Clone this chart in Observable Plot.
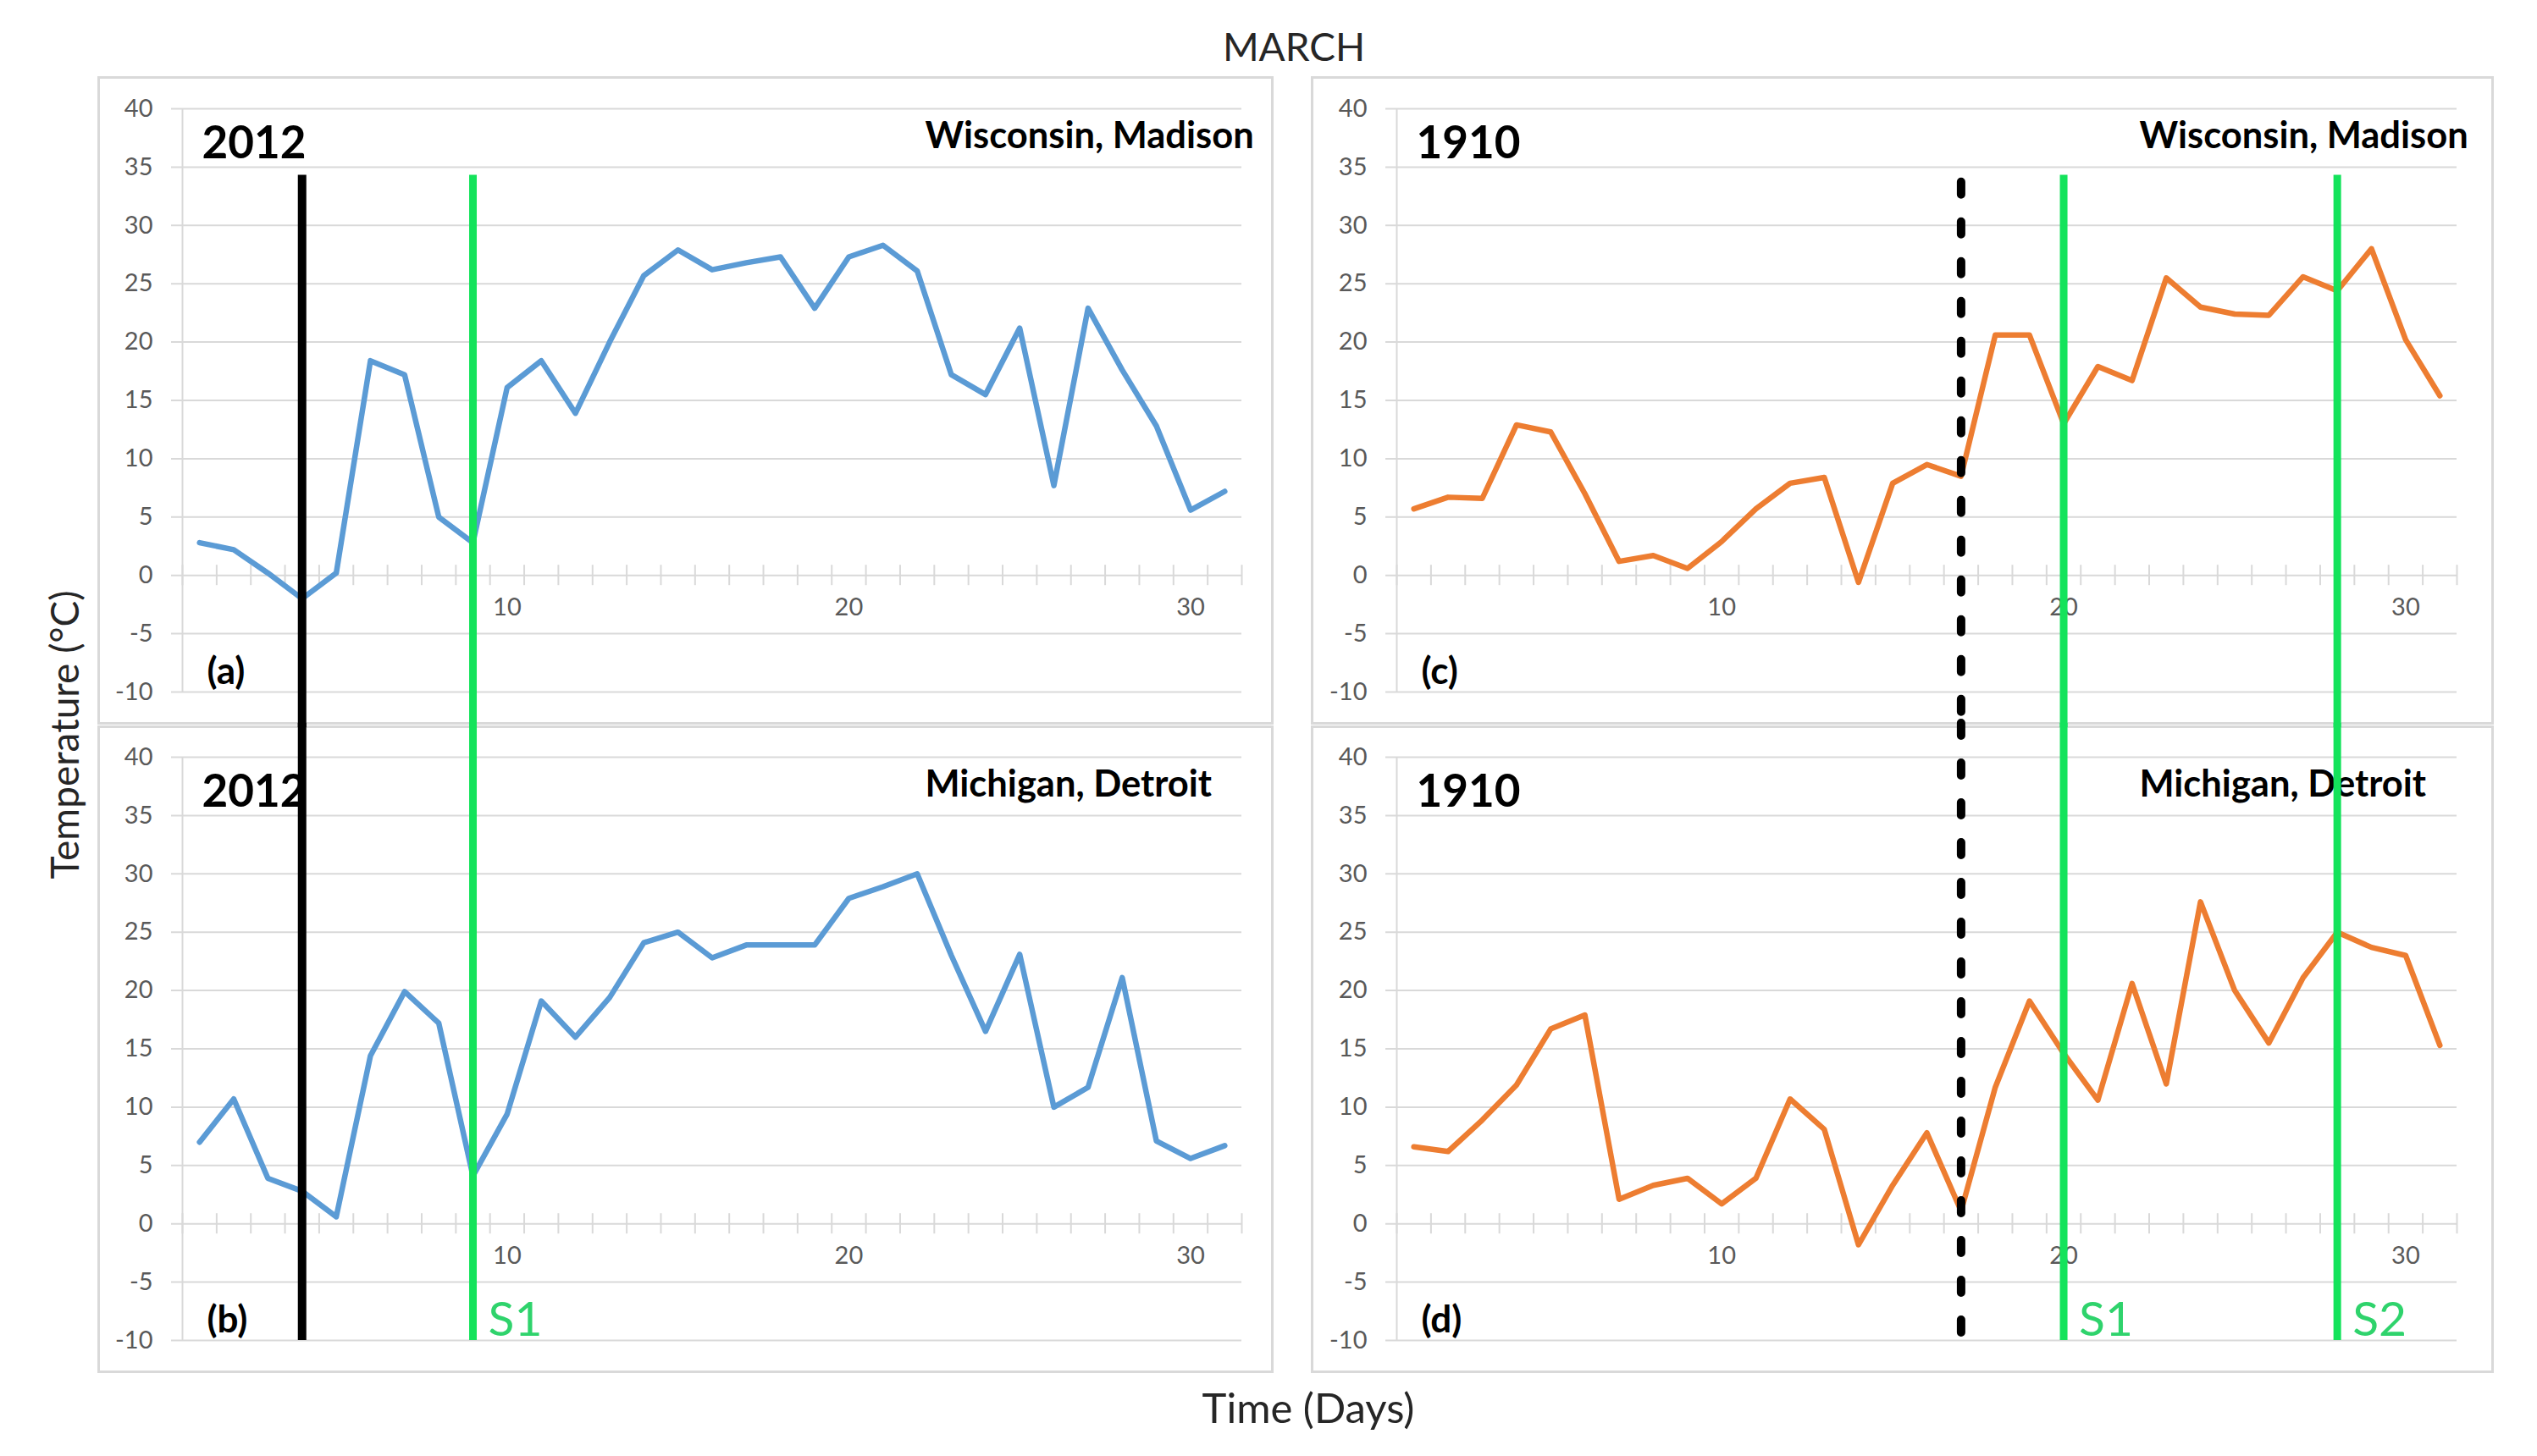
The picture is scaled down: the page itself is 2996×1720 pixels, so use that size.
<!DOCTYPE html>
<html>
<head>
<meta charset="utf-8">
<script src="https://cdn.jsdelivr.net/npm/d3@7"></script>
<script src="https://cdn.jsdelivr.net/npm/@observablehq/plot@0.6"></script>
<style>
  html, body { margin: 0; padding: 0; background: #fff; }
  #root { position: relative; width: 2996px; height: 1720px; overflow: hidden; background: #fff; font-family: Lato, "Open Sans", sans-serif; color: #262626; }
  .box { position: absolute; border: 3px solid #d9d9d9; box-sizing: border-box; z-index: 1; }
  .panel { position: absolute; z-index: 2; }
  .panel svg { overflow: visible; background: transparent; }
  .lbl { position: absolute; line-height: 1; white-space: nowrap; text-align: center; }
</style>
</head>
<body>
<div id="root">
  <div class="lbl" style="left:1328px; width:400px; top:32px; font-size:46px;">MARCH</div>
  <div class="lbl" style="left:1345px; width:400px; top:1638px; font-size:49px;">Time (Days)</div>
  <div class="lbl" style="left:-124px; width:400px; top:845px; font-size:46px; transform: rotate(-90deg); transform-origin: 200px 23px;">Temperature (°C)</div>
</div>
<script>
// ---- data ----
const days = [1,2,3,4,5,6,7,8,9,10,11,12,13,14,15,16,17,18,19,20,21,22,23,24,25,26,27,28,29,30,31];
const madison2012 = [2.8,2.2,0.2,-2.0,0.2,18.4,17.2,5.0,2.8,16.1,18.4,13.9,20.0,25.7,27.9,26.2,26.8,27.3,22.9,27.3,28.3,26.1,17.2,15.5,21.2,7.7,22.9,17.6,12.8,5.6,7.2];
const detroit2012 = [7.0,10.7,3.9,2.8,0.6,14.4,19.9,17.2,4.1,9.4,19.1,16.0,19.4,24.1,25.0,22.8,23.9,23.9,23.9,27.9,28.9,30.0,23.0,16.5,23.1,10.0,11.7,21.1,7.1,5.6,6.7];
const madison1910 = [5.7,6.7,6.6,12.9,12.3,7.0,1.2,1.7,0.6,2.9,5.7,7.9,8.4,-0.6,7.9,9.5,8.5,20.6,20.6,13.0,17.9,16.7,25.5,23.0,22.4,22.3,25.6,24.4,28.0,20.2,15.4];
const detroit1910 = [6.6,6.2,8.9,11.9,16.7,17.9,2.1,3.3,3.9,1.7,3.9,10.7,8.1,-1.8,3.3,7.8,1.1,11.7,19.1,14.6,10.6,20.6,12.0,27.6,20.0,15.5,21.1,25.0,23.7,23.0,15.3];
const yTicks = [-10,-5,0,5,10,15,20,25,30,35,40];
const xTickLabels = [10,20,30];
const events2012 = [{day: 4, type: "onset", label: ""}, {day: 9, type: "stage", label: "S1"}];
const events1910 = [{day: 17, type: "onsetDashed", label: ""}, {day: 20, type: "stage", label: "S1"}, {day: 28, type: "stage", label: "S2"}];
const eventTop = 34.3;       // top of the solid event lines in the upper panels
const dashedTop = 33.7;      // top of the dashed line in the upper panel
const panelLetters = ["(a)", "(b)", "(c)", "(d)"];

// ---- styling ----
const FONT = "Lato";
const GRID = "#d9d9d9";
const BLUE = "#5b9bd5";
const ORANGE = "#ed7d31";
const GREEN = "#14e35b";
const GREEN_TEXT = "#2fd36c";
const xDomain = [0.5, 31.5];
const yDomain = [-10, 40];

const panels = [
  {left: 115, top: 90, w: 1389, h: 766, mL: 100, mR: 38, mT: 38, mB: 39, values: madison2012, color: BLUE, year: "2012", place: "Wisconsin, Madison", letter: panelLetters[0], events: events2012, upper: true},
  {left: 115, top: 857, w: 1389, h: 765, mL: 100, mR: 38, mT: 37, mB: 39, values: detroit2012, color: BLUE, year: "2012", place: "Michigan, Detroit", letter: panelLetters[1], events: events2012, upper: false},
  {left: 1548, top: 90, w: 1397, h: 766, mL: 101, mR: 44, mT: 38, mB: 39, values: madison1910, color: ORANGE, year: "1910", place: "Wisconsin, Madison", letter: panelLetters[2], events: events1910, upper: true},
  {left: 1548, top: 857, w: 1397, h: 765, mL: 101, mR: 44, mT: 37, mB: 39, values: detroit1910, color: ORANGE, year: "1910", place: "Michigan, Detroit", letter: panelLetters[3], events: events1910, upper: false}
];

const root = document.getElementById("root");

for (const p of panels) {
  const box = document.createElement("div");
  box.className = "box";
  Object.assign(box.style, {left: p.left + "px", top: p.top + "px", width: p.w + "px", height: p.h + "px"});
  root.appendChild(box);

  const pxPerUnit = (p.h - p.mT - p.mB) / (yDomain[1] - yDomain[0]);
  const tickHalf = 12 / pxPerUnit;
  const belowFrame = yDomain[0] - (p.mB + 3) / pxPerUnit;
  const aboveFrame = yDomain[1] + (p.mT + 3) / pxPerUnit;
  const data = days.map((d, i) => ({day: d, temp: p.values[i]}));
  const bounds = [xDomain[0], ...days.map(d => d + 0.5)];

  const evBlack = p.events.filter(e => e.type === "onset");
  const evGreen = p.events.filter(e => e.type === "stage");
  const evDashed = p.events.filter(e => e.type === "onsetDashed");
  const solidTop = p.upper ? eventTop : aboveFrame;
  const solidBottom = p.upper ? belowFrame : yDomain[0];
  const dashTop = p.upper ? dashedTop : aboveFrame;

  const chart = Plot.plot({
    width: p.w, height: p.h,
    marginLeft: p.mL, marginRight: p.mR, marginTop: p.mT, marginBottom: p.mB,
    style: {background: "transparent", overflow: "visible", fontFamily: FONT},
    x: {domain: xDomain, axis: null},
    y: {domain: yDomain, axis: null},
    marks: [
      // horizontal gridlines (with outward tick on the value axis)
      Plot.ruleY(yTicks, {y: d => d, stroke: GRID, strokeWidth: 2, insetLeft: -13}),
      // value axis line
      Plot.ruleX([xDomain[0]], {x: d => d, y1: yDomain[0], y2: yDomain[1], stroke: GRID, strokeWidth: 2}),
      // value axis labels
      Plot.text(yTicks, {x: xDomain[0], y: d => d, text: d => String(d), textAnchor: "end", dx: -35, fill: "#595959", fontSize: 29, fontFamily: FONT}),
      // category axis tick marks crossing the zero line
      Plot.ruleX(bounds, {x: d => d, y1: -tickHalf, y2: tickHalf, stroke: GRID, strokeWidth: 2}),
      // category axis labels
      Plot.text(xTickLabels, {x: d => d, y: 0, dy: 38, text: d => String(d), fill: "#595959", fontSize: 29, fontFamily: FONT}),
      // temperature line
      Plot.line(data, {x: "day", y: "temp", stroke: p.color, strokeWidth: 6.5, strokeLinejoin: "round", strokeLinecap: "round"}),
      // panel texts
      Plot.text([p.year], {text: d => d, frameAnchor: "top-left", dx: 23, dy: 58, textAnchor: "start", lineAnchor: "bottom", fontWeight: "bold", fontSize: 53, fill: "#000", fontFamily: FONT}),
      Plot.text([p.place], {text: d => d, frameAnchor: "top-left", dx: 877, dy: 46, textAnchor: "start", lineAnchor: "bottom", fontWeight: "bold", fontSize: 43.5, fill: "#000", fontFamily: FONT}),
      Plot.text([p.letter], {text: d => d, frameAnchor: "bottom-left", dx: 29, dy: -10, textAnchor: "start", lineAnchor: "bottom", fontWeight: "bold", fontSize: 44, fill: "#000", fontFamily: FONT}),
      // event lines
      Plot.ruleX(evBlack, {x: "day", y1: solidTop, y2: solidBottom, stroke: "#000", strokeWidth: 10}),
      Plot.ruleX(evGreen, {x: "day", y1: solidTop, y2: solidBottom, stroke: GREEN, strokeWidth: 9}),
      Plot.ruleX(evDashed, {x: "day", y1: dashTop, y2: yDomain[0] - (p.upper ? (p.mB + 3) / pxPerUnit : 0), stroke: "#000", strokeWidth: 10, strokeDasharray: "15 32", strokeLinecap: "round"}),
      // stage labels (lower panels only)
      Plot.text(p.upper ? [] : evGreen, {x: "day", y: yDomain[0], text: "label", dx: 18, dy: -6, textAnchor: "start", lineAnchor: "bottom", fill: GREEN_TEXT, fontSize: 57, fontFamily: FONT})
    ]
  });

  const holder = document.createElement("div");
  holder.className = "panel";
  Object.assign(holder.style, {left: p.left + "px", top: p.top + "px", width: p.w + "px", height: p.h + "px"});
  holder.appendChild(chart);
  root.appendChild(holder);
}
</script>
</body>
</html>
